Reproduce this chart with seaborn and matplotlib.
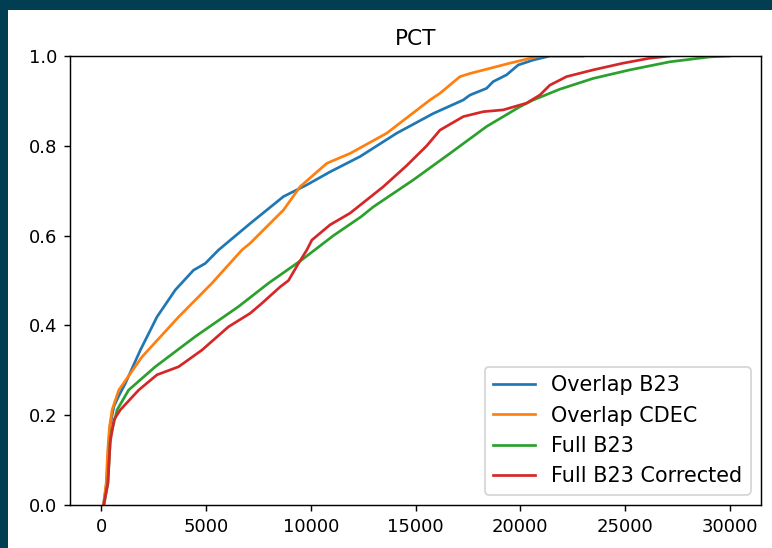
import matplotlib
matplotlib.use("Agg")
import matplotlib.pyplot as plt
from matplotlib.patches import Rectangle
import pandas as pd
import seaborn as sns

# ECDF curves: value (x) and cumulative proportion (y)
overlap_b23_x = [100, 250, 330, 420, 600, 850, 1145, 1860, 2655, 3530, 4400, 4960, 5595, 7105, 8695, 9810,
                 10920, 12350, 14100, 15850, 17280, 17600, 18395, 18710, 19350, 19905, 20620, 21415, 23000]
overlap_b23_y = [0.0, 0.05, 0.12, 0.18, 0.22, 0.245, 0.271, 0.345, 0.419, 0.479, 0.523, 0.538, 0.568, 0.627, 0.687,
                 0.713, 0.742, 0.776, 0.828, 0.872, 0.902, 0.913, 0.928, 0.943, 0.958, 0.980, 0.991, 1.0, 1.0]

overlap_cdec_x = [100, 230, 300, 380, 510, 830, 1940, 3690, 5280, 6710, 7105, 8695, 9490, 10765, 11875,
                  13625, 15690, 16170, 17120, 17600, 19505, 20940, 21000]
overlap_cdec_y = [0.0, 0.05, 0.12, 0.17, 0.212, 0.256, 0.330, 0.419, 0.494, 0.568, 0.583, 0.657, 0.709, 0.761,
                  0.783, 0.828, 0.902, 0.917, 0.954, 0.961, 0.984, 1.0, 1.0]

full_b23_x = [120, 310, 430, 750, 1300, 2575, 4480, 6550, 7980, 9570, 11080, 12400, 12985, 14895, 16645,
              18395, 19985, 20620, 21890, 23480, 25230, 27140, 29045, 30000]
full_b23_y = [0.0, 0.049, 0.152, 0.212, 0.256, 0.308, 0.375, 0.442, 0.494, 0.546, 0.600, 0.642, 0.664, 0.724,
              0.783, 0.843, 0.887, 0.902, 0.926, 0.950, 0.969, 0.987, 0.998, 1.0]

full_b23_corr_x = [110, 310, 420, 600, 905, 1780, 2655, 3690, 4800, 6070, 7105, 7660, 8540, 8935, 9410, 9810,
                   10050, 10920, 11875, 13465, 14580, 15535, 16170, 17280, 18235, 19190, 20300, 20940, 21415,
                   22210, 23480, 24910, 26180, 27140]
full_b23_corr_y = [0.0, 0.049, 0.14, 0.19, 0.212, 0.256, 0.290, 0.308, 0.345, 0.397, 0.427, 0.449, 0.486, 0.500,
                   0.538, 0.568, 0.590, 0.624, 0.650, 0.709, 0.756, 0.800, 0.835, 0.865, 0.876, 0.880, 0.895,
                   0.913, 0.935, 0.954, 0.969, 0.984, 0.995, 1.0]

series_names = ["Overlap B23", "Overlap CDEC", "Full B23", "Full B23 Corrected"]
title = "PCT"

frames = []
for name, xs, ys in zip(series_names,
                        [overlap_b23_x, overlap_cdec_x, full_b23_x, full_b23_corr_x],
                        [overlap_b23_y, overlap_cdec_y, full_b23_y, full_b23_corr_y]):
    frames.append(pd.DataFrame({"value": xs, "proportion": ys, "series": name}))
df = pd.concat(frames, ignore_index=True)

DPI = 130
fig = plt.figure(figsize=(772 / DPI, 548 / DPI), dpi=DPI, facecolor="#023e51")
fig.add_artist(Rectangle((8 / 772, 0), 1, 1 - 10 / 548, transform=fig.transFigure,
                         facecolor="white", edgecolor="none", zorder=-10))
ax = fig.add_axes([70 / 772, 43 / 548, 691 / 772, 449 / 548])

sns.lineplot(data=df, x="value", y="proportion", hue="series", hue_order=series_names,
             palette="tab10", sort=False, estimator=None, linewidth=1.5, ax=ax)

ax.set_ylim(0, 1)
ax.set_xlim(-1500, 31500)
ax.set_xticks([0, 5000, 10000, 15000, 20000, 25000, 30000])
ax.set_yticks([0.0, 0.2, 0.4, 0.6, 0.8, 1.0])
ax.set_xlabel("")
ax.set_ylabel("")
ax.set_title(title)
sns.move_legend(ax, "lower right", title=None, fontsize=11.5)

fig.savefig("out.png", dpi=DPI, facecolor=fig.get_facecolor())
